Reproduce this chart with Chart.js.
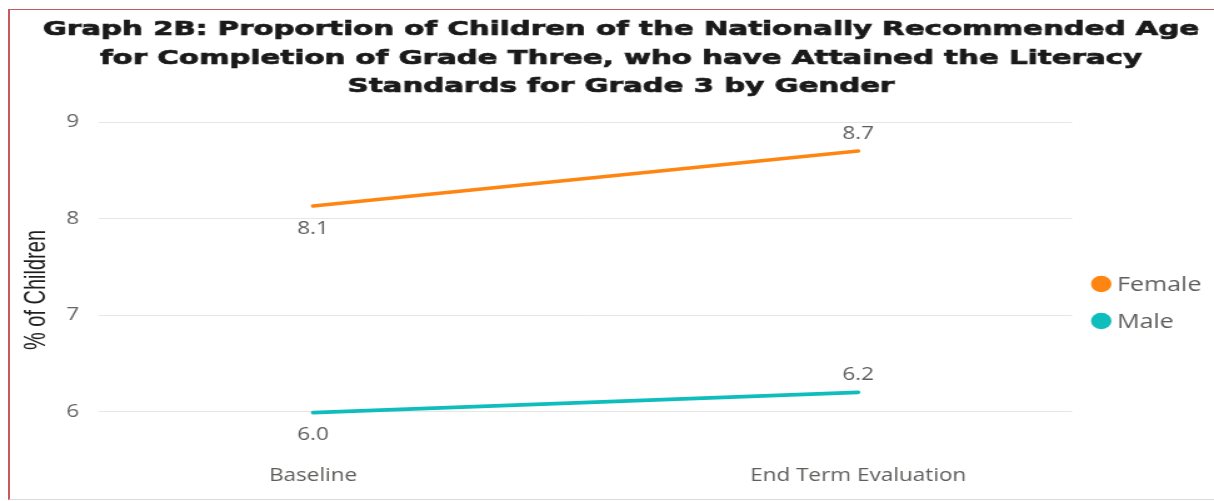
<!DOCTYPE html>
<html>
<head>
<meta charset="utf-8">
<title>Graph 2B: Literacy Standards for Grade 3 by Gender</title>
<script src="https://cdn.jsdelivr.net/npm/chart.js@4/dist/chart.umd.min.js"></script>
<style>
  html, body { margin: 0; padding: 0; background: #ffffff; }
  #page { position: relative; width: 1214px; height: 501px; overflow: hidden; background: #ffffff; }
  #stage { position: absolute; left: 0; top: 0; width: 971px; height: 501px; transform-origin: 0 0; transform: scaleX(1.25026); }
  #frame { position: absolute; box-sizing: border-box; left: 8px; top: 9px; width: 1210px; height: 491px;
           border-left: 2px solid #C95A5B; border-top: 1.5px solid #C95A5B; border-bottom: 1px solid #DADADA; pointer-events: none; }
</style>
</head>
<body>
<div id="page">
  <div id="stage"><canvas id="chart" width="971" height="501"></canvas></div>
  <div id="frame"></div>
</div>
<script>
// ---- data ----
const categories = ['Baseline', 'End Term Evaluation'];
const femaleValues = [8.13, 8.70];
const maleValues = [5.99, 6.20];
const yTickValues = [6, 7, 8, 9];
const seriesNames = ['Female', 'Male'];
const seriesColors = ['#FF8512', '#10BDBD'];
const titleLines = [
  'Graph 2B: Proportion of Children of the Nationally Recommended Age',
  'for Completion of Grade Three, who have Attained the Literacy',
  'Standards for Grade 3 by Gender'
];
const yAxisTitle = '% of Children';

const seriesValues = [femaleValues, maleValues];
const labelFont = "'Open Sans', 'Noto Sans', sans-serif";
const textGrey = '#605E5C';

// Three-line bold heading, fitted to the heading block width
const headingPlugin = {
  id: 'heading',
  afterDraw(chart) {
    const c = chart.ctx;
    c.save();
    c.font = "bold 20px 'DejaVu Sans', 'Liberation Sans', sans-serif";
    c.fillStyle = '#1A1A1A';
    c.strokeStyle = '#1A1A1A';
    c.lineWidth = 0.7;
    c.textAlign = 'center';
    c.textBaseline = 'alphabetic';
    const k = 924.8 / c.measureText(titleLines[0]).width;
    const cx = 496.7;
    const baselines = [35, 64, 92];
    titleLines.forEach((line, i) => {
      c.save();
      c.translate(cx, baselines[i]);
      c.scale(k, 1);
      c.fillText(line, 0, 0);
      c.strokeText(line, 0, 0);
      c.restore();
    });
    c.restore();
  }
};

// Condensed vertical axis title, centred on the value axis
const yTitlePlugin = {
  id: 'yTitle',
  afterDraw(chart) {
    const c = chart.ctx;
    const ys = chart.scales.y;
    c.save();
    c.font = "24px 'Liberation Sans', 'Arimo', sans-serif";
    c.fillStyle = '#1E1E1E';
    c.textAlign = 'center';
    c.textBaseline = 'middle';
    const k = 120 / c.measureText(yAxisTitle).width;
    c.translate(29.3, (ys.top + ys.bottom) / 2);
    c.rotate(-Math.PI / 2);
    c.scale(k, 1);
    c.fillText(yAxisTitle, 0, 0);
    c.restore();
  }
};

// Value labels: below the lower end of each line, above the higher end
const valueLabelPlugin = {
  id: 'valueLabels',
  afterDatasetsDraw(chart) {
    const c = chart.ctx;
    c.save();
    c.font = '18px ' + labelFont;
    c.fillStyle = textGrey;
    c.textAlign = 'center';
    c.textBaseline = 'alphabetic';
    chart.data.datasets.forEach((ds, di) => {
      const meta = chart.getDatasetMeta(di);
      const vals = seriesValues[di];
      const hi = Math.max(...vals);
      meta.data.forEach((pt, i) => {
        const v = vals[i];
        const y = v === hi ? pt.y - 12 : pt.y + 27.5;
        c.fillText(v.toFixed(1), pt.x, y);
      });
    });
    c.restore();
  }
};

// Legend at the right with round markers
const sideLegendPlugin = {
  id: 'sideLegend',
  afterDraw(chart) {
    const c = chart.ctx;
    c.save();
    c.font = '20px ' + labelFont;
    c.textAlign = 'left';
    c.textBaseline = 'middle';
    const x0 = 880.8, y0 = 284, gap = 37;
    chart.data.datasets.forEach((ds, i) => {
      const y = y0 + i * gap;
      c.fillStyle = ds.borderColor;
      c.beginPath();
      c.arc(x0, y, 8.2, 0, Math.PI * 2);
      c.fill();
      c.fillStyle = textGrey;
      c.fillText(ds.label, x0 + 12.6, y + 1);
    });
    c.restore();
  }
};

const datasets = seriesNames.map((name, s) => ({
  label: name,
  data: seriesValues[s].map((v, i) => ({ x: i, y: v })),
  borderColor: seriesColors[s],
  backgroundColor: seriesColors[s],
  borderWidth: 3.6,
  borderCapStyle: 'round',
  pointRadius: 0,
  pointHoverRadius: 0,
  tension: 0,
  clip: false
}));

new Chart(document.getElementById('chart'), {
  type: 'line',
  data: { datasets },
  options: {
    responsive: false,
    animation: false,
    devicePixelRatio: 1,
    layout: { padding: { left: 0, top: 122, right: 113.4, bottom: 0 } },
    plugins: {
      legend: { display: false },
      title: { display: false },
      tooltip: { enabled: false }
    },
    scales: {
      x: {
        type: 'linear',
        min: -0.3927,
        max: 1.3927,
        afterBuildTicks: (s) => { s.ticks = categories.map((_, i) => ({ value: i })); },
        afterFit: (s) => { s.height = 43; },
        ticks: {
          callback: (v) => categories[v],
          padding: 7,
          color: textGrey,
          font: { family: labelFont, size: 18 },
          maxRotation: 0,
          autoSkip: false
        },
        grid: { display: false, drawTicks: false },
        border: { display: false }
      },
      y: {
        min: 5.52,
        max: 9,
        afterBuildTicks: (s) => { s.ticks = yTickValues.map(v => ({ value: v })); },
        afterFit: (s) => { s.width = 79.2; },
        ticks: {
          padding: 16,
          color: '#666666',
          font: { family: labelFont, size: 18 }
        },
        grid: { color: '#E6E6E6', lineWidth: 1, drawTicks: false },
        border: { display: false },
        title: { display: false }
      }
    }
  },
  plugins: [headingPlugin, yTitlePlugin, valueLabelPlugin, sideLegendPlugin]
});
</script>
</body>
</html>
